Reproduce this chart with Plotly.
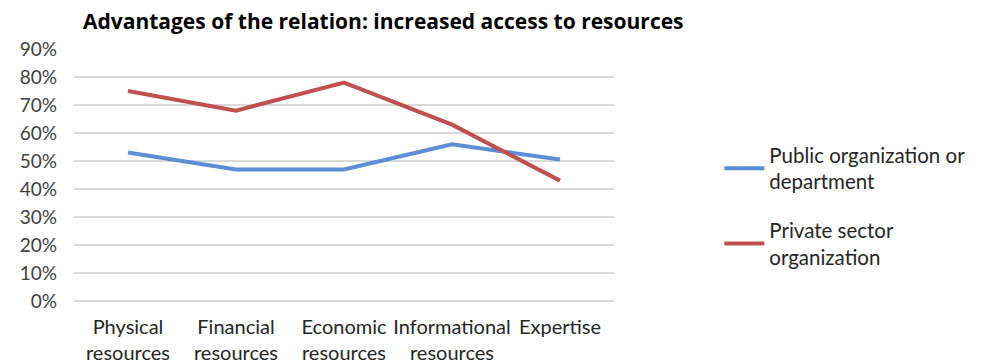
import plotly.graph_objects as go

categories = ["Physical<br>resources", "Financial<br>resources", "Economic<br>resources",
              "Informational<br>resources", "Expertise"]
public_vals = [0.53, 0.47, 0.47, 0.56, 0.505]
private_vals = [0.75, 0.68, 0.78, 0.63, 0.43]
series_names = ["Public organization or<br>department", "Private sector<br>organization"]
y_ticks = [i / 10 for i in range(10)]
title_text = "Advantages of the relation: increased access to resources"

FONT = "Lato"

fig = go.Figure()
fig.add_trace(go.Scatter(x=categories, y=public_vals, mode="lines", name=series_names[0],
                         legendgroup="a", line=dict(color="#5B8ED6", width=4)))
fig.add_trace(go.Scatter(x=categories, y=private_vals, mode="lines", name=series_names[1],
                         legendgroup="b", line=dict(color="#C0504D", width=4)))

fig.update_layout(
    width=987, height=364,
    margin=dict(l=66, r=381, t=41, b=71, autoexpand=False),
    paper_bgcolor="white", plot_bgcolor="white",
    title=dict(text="<b>" + title_text + "</b>", x=75 / 987, xanchor="left",
               y=1 - 14 / 364, yanchor="middle",
               font=dict(family="Open Sans", size=21, color="black")),
    font=dict(family=FONT, size=18, color="#404040"),
    xaxis=dict(showgrid=False, showline=False, ticks="", tickfont=dict(size=20, color="#262626"),
               range=[-0.5, 4.5], ticklabelstandoff=12, automargin=False),
    yaxis=dict(range=[0, 0.9], tickvals=y_ticks, tickformat=".0%", showgrid=True,
               gridcolor="#D9D9D9", gridwidth=1.5, zeroline=True, zerolinecolor="#D9D9D9",
               zerolinewidth=1.5, ticks="", ticklabelstandoff=16, automargin=False,
               tickfont=dict(size=19, color="#404040")),
    legend=dict(x=1.195, y=0.377, xanchor="left", yanchor="middle",
                font=dict(size=20.5, color="#262626"), tracegroupgap=19, itemwidth=40),
    showlegend=True,
)

fig.write_html("out.html")
